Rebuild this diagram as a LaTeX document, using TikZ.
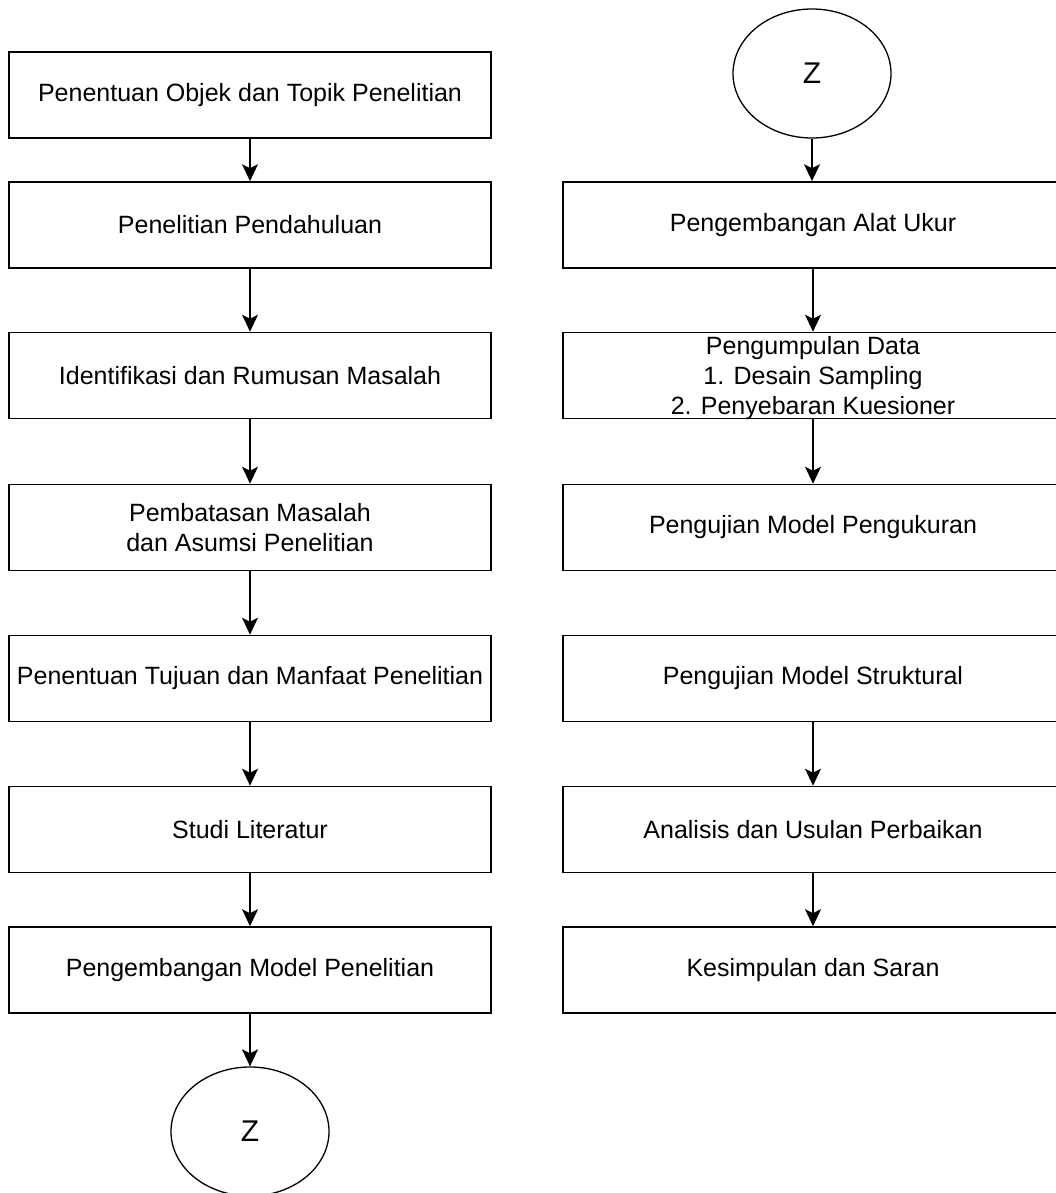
\documentclass[tikz,border=0pt]{standalone}
\usepackage{fontspec}
\setmainfont{Liberation Sans}
\usetikzlibrary{shapes.geometric,arrows.meta}
\begin{document}
\begin{tikzpicture}[x=1pt,y=-1pt,
  every node/.style={font=\fontsize{25}{30}\selectfont, text=black},
  lbox/.style={draw, line width=1.6pt, rectangle, minimum width=482pt, minimum height=86pt, inner sep=0pt, align=center},
  rbox/.style={draw, line width=1.6pt, rectangle, minimum width=500pt, minimum height=86pt, inner sep=0pt, align=center},
  conn/.style={draw, ellipse, line width=1.3pt, minimum width=158pt, minimum height=129pt, inner sep=0pt, font=\fontsize{30}{36}\selectfont},
  flow/.style={line width=1.6pt, -{Stealth[length=17pt,width=16pt,inset=4pt]}}]
\useasboundingbox (0,0) rectangle (1056,1193);
\clip (0,0) rectangle (1056,1193);
% left column
\node[lbox] (l1) at (250,95) {Penentuan Objek dan Topik Penelitian};
\node[lbox] (l2) at (250,225) {Penelitian Pendahuluan};
\node[lbox] (l3) at (250,375.5) {Identifikasi dan Rumusan Masalah};
\node[lbox] (l4) at (250,527.5) {Pembatasan Masalah\\dan Asumsi Penelitian};
\node[lbox] (l5) at (250,678.5) {Penentuan Tujuan dan Manfaat Penelitian};
\node[lbox] (l6) at (250,829.5) {Studi Literatur};
\node[lbox] (l7) at (250,970) {Pengembangan Model Penelitian};
\node[conn] (z1) at (250,1131.5) {Z};
% right column
\node[conn] (z2) at (812,73.5) {Z};
\node[rbox] (r1) at (813,225) {Pengembangan Alat Ukur};
\node[rbox] (r2) at (813,375.5) {};
\node[align=center, inner sep=0pt] (r2t) at (813,378.5) {Pengumpulan Data\\1. Desain Sampling\\2. Penyebaran Kuesioner};
\node[rbox] (r3) at (813,527.5) {Pengujian Model Pengukuran};
\node[rbox] (r4) at (813,678.5) {Pengujian Model Struktural};
\node[rbox] (r5) at (813,829.5) {Analisis dan Usulan Perbaikan};
\node[rbox] (r6) at (813,970) {Kesimpulan dan Saran};
% connectors
\draw[flow] (l1) -- (l2);
\draw[flow] (l2) -- (l3);
\draw[flow] (l3) -- (l4);
\draw[flow] (l4) -- (l5);
\draw[flow] (l5) -- (l6);
\draw[flow] (l6) -- (l7);
\draw[flow] (l7) -- (z1);
\draw[flow] (z2.south) -- (r1.north -| z2.south);
\draw[flow] (r1) -- (r2);
\draw[flow] (r2) -- (r3);
\draw[flow] (r4) -- (r5);
\draw[flow] (r5) -- (r6);
\end{tikzpicture}
\end{document}
